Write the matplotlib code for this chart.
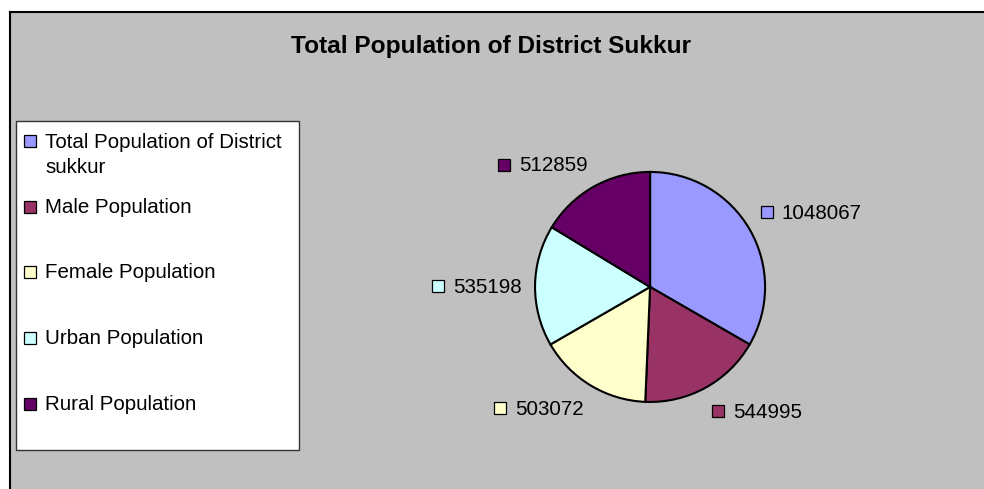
import matplotlib
matplotlib.use('Agg')
import matplotlib.pyplot as plt
import numpy as np
from matplotlib.patches import Rectangle

# ── Data ────────────────────────────────────────────────────
TITLE = 'Total Population of District Sukkur'
CATEGORIES = ['Total Population of District\nsukkur', 'Male Population',
              'Female Population', 'Urban Population', 'Rural Population']
VALUES = [1048067, 544995, 503072, 535198, 512859]
COLORS = ['#9999FF', '#993366', '#FFFFCC', '#CCFFFF', '#660066']

# ── Style ───────────────────────────────────────────────────
W, H = 984, 489
BG = '#C0C0C0'
FS = 14.75
CAP = 0.716 * FS * 100 / 72   # cap height in px
LINE_GAP = 26.6               # baseline to baseline, px
MS = 8.4                      # marker size (pt)

plt.rcParams['font.family'] = ['Liberation Sans', 'DejaVu Sans']

# small epsilon so int() of the pixel size doesn't round down
fig = plt.figure(figsize=(W / 100 + 1e-3, H / 100 + 1e-3), dpi=100)
ax = fig.add_axes([0, 0, 1, 1])

# chart area background (runs off the right and bottom edges)
ax.add_patch(Rectangle((10, 12), W, H, facecolor=BG,
                       edgecolor='none', zorder=0))
ax.plot([10, W + 5], [12, 12], color='black', linewidth=1.5, zorder=0.5)
ax.plot([10, 10], [12, H + 5], color='black', linewidth=1.5, zorder=0.5)

# pie (y axis inverted, so counterclock=True draws clockwise on screen)
cx, cy, r = 650, 287, 115
wedges, _ = ax.pie(VALUES, colors=COLORS, center=(cx, cy), radius=r,
                   startangle=-90, counterclock=True,
                   wedgeprops=dict(edgecolor='black', linewidth=1.5))
ax.set_xlim(0, W)
ax.set_ylim(H, 0)
ax.set_aspect('equal')
ax.axis('off')

# title
ax.text(491, 53, TITLE, ha='center', va='baseline', fontsize=17.6,
        fontweight='bold', color='black')

# legend box
ax.add_patch(Rectangle((16, 121), 283, 329, facecolor='white',
                       edgecolor='#333333', linewidth=1, zorder=2))
for i, (lab, col) in enumerate(zip(CATEGORIES, COLORS)):
    base = 146.7 + 65.8 * i
    nl = lab.count('\n')
    ax.plot(29.5, base - CAP / 2 + 1.5, 's', color=col, markersize=MS,
            markeredgecolor='black', markeredgewidth=0.9, zorder=3)
    # va='baseline' anchors the last line, so push multi-line labels down
    ax.text(45, base + nl * LINE_GAP, lab, ha='left', va='baseline',
            fontsize=FS, linespacing=1.45, zorder=3)

# data labels
fig.canvas.draw()
renderer = fig.canvas.get_renderer()
d = 128
for w, v, col in zip(wedges, VALUES, COLORS):
    mid = np.deg2rad((w.theta1 + w.theta2) / 2)
    lx = cx + d * np.cos(mid)
    ly = cy + d * np.sin(mid)
    up = -np.sin(mid)
    if up > 0.3:
        base = ly - 4
    elif up < -0.3:
        base = ly + 4 + CAP
    else:
        base = ly + CAP / 2
    my = base - CAP / 2 + 0.5
    if np.cos(mid) >= 0:
        ax.plot(lx + 6, my, 's', color=col, markersize=MS,
                markeredgecolor='black', markeredgewidth=0.9, zorder=3)
        ax.text(lx + 21, base, str(v), ha='left', va='baseline',
                fontsize=FS, zorder=3)
    else:
        t = ax.text(lx, base, str(v), ha='right', va='baseline',
                    fontsize=FS, zorder=3)
        bb = t.get_window_extent(renderer)
        x0 = ax.transData.inverted().transform((bb.x0, bb.y0))[0]
        ax.plot(x0 - 15, my, 's', color=col, markersize=MS,
                markeredgecolor='black', markeredgewidth=0.9, zorder=3)

fig.savefig('out.png', dpi=100, facecolor='white')
